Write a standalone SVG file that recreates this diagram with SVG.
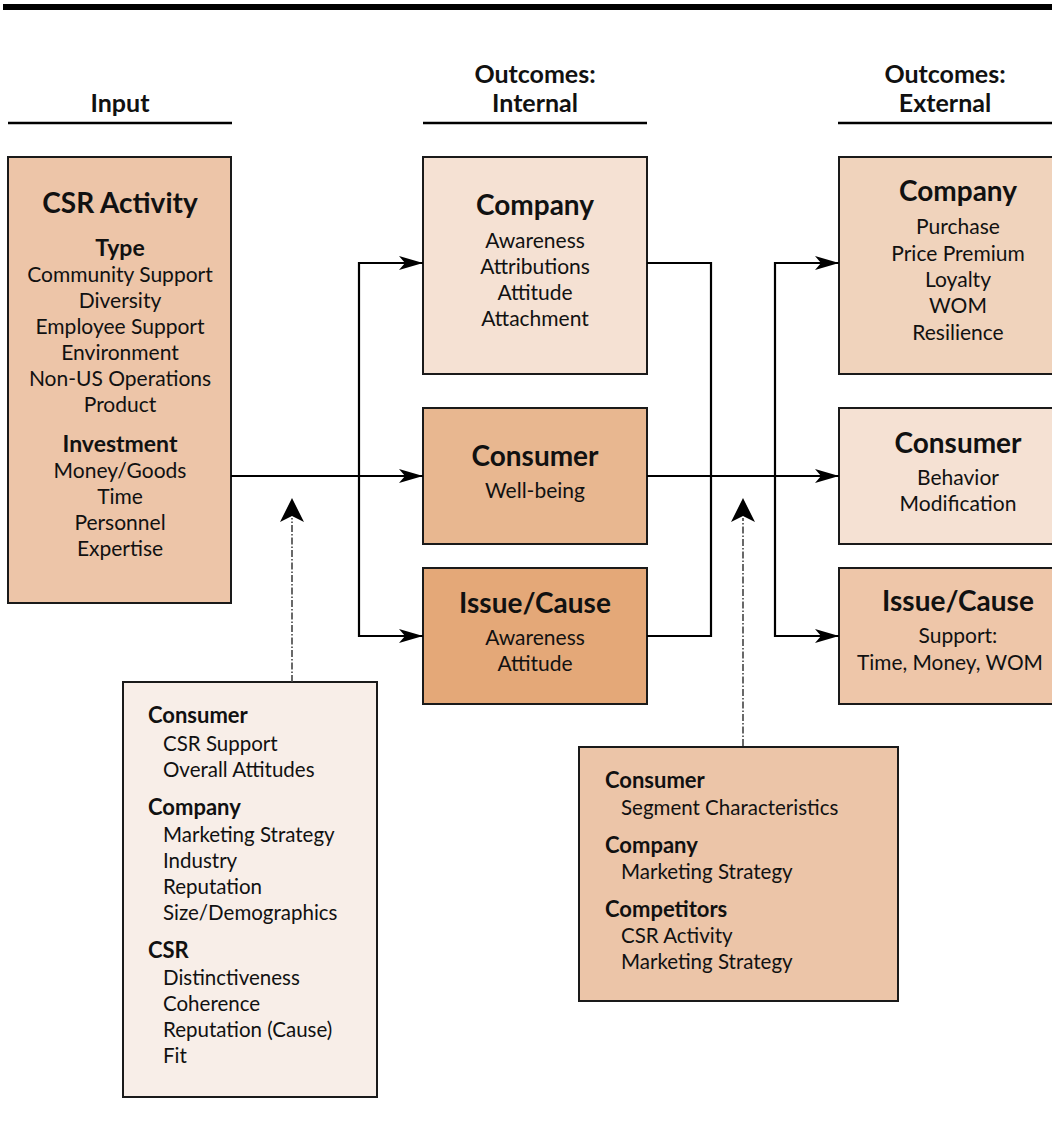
<svg xmlns="http://www.w3.org/2000/svg" width="1052" height="1142" viewBox="0 0 1052 1142">
<style>
  text { font-family: Lato, "Open Sans", "Liberation Sans", sans-serif; fill: #111; }
  .hd { font-size: 25px; font-weight: bold; text-anchor: middle; }
  .t { font-size: 28px; font-weight: bold; text-anchor: middle; }
  .st { font-size: 23px; font-weight: bold; text-anchor: middle; }
  .c { font-size: 21px; text-anchor: middle; }
  .mh { font-size: 22px; font-weight: bold; }
  .mi { font-size: 20.5px; }
  .box { stroke: #1a1a1a; stroke-width: 2; }
  .conn { fill: none; stroke: #000; stroke-width: 2.2; }
  .dash { fill: none; stroke: #444; stroke-width: 1.6; stroke-dasharray: 7 2 1.5 2; }
</style>
<defs>
  <marker id="arr" markerUnits="userSpaceOnUse" markerWidth="26" markerHeight="16" refX="24" refY="7" orient="auto">
    <path d="M0,0 L24,7 L0,14 L6,7 z" fill="#000"/>
  </marker>
</defs>
<rect width="1052" height="1142" fill="#fff"/>

<g id="headers">
  <rect x="3" y="4" width="1049" height="6" fill="#000"/>
  <text class="hd" x="120" y="112">Input</text>
  <line x1="8" y1="123" x2="232" y2="123" stroke="#000" stroke-width="2.5"/>
  <text class="hd" x="535" y="83">Outcomes:</text>
  <text class="hd" x="535" y="112">Internal</text>
  <line x1="423" y1="123" x2="647" y2="123" stroke="#000" stroke-width="2.5"/>
  <text class="hd" x="945" y="83">Outcomes:</text>
  <text class="hd" x="945" y="112">External</text>
  <line x1="838" y1="123" x2="1052" y2="123" stroke="#000" stroke-width="2.5"/>
</g>

<g id="csr-activity">
  <rect class="box" x="8" y="157" width="223" height="446" fill="#EDC5A8"/>
  <text class="t" x="120" y="213">CSR Activity</text>
  <text class="st" x="120" y="256">Type</text>
  <text class="c" x="120" y="282">Community Support</text>
  <text class="c" x="120" y="308">Diversity</text>
  <text class="c" x="120" y="334">Employee Support</text>
  <text class="c" x="120" y="360">Environment</text>
  <text class="c" x="120" y="386">Non-US Operations</text>
  <text class="c" x="120" y="412">Product</text>
  <text class="st" x="120" y="452">Investment</text>
  <text class="c" x="120" y="478">Money/Goods</text>
  <text class="c" x="120" y="504">Time</text>
  <text class="c" x="120" y="530">Personnel</text>
  <text class="c" x="120" y="556">Expertise</text>
</g>

<g id="int-company">
  <rect class="box" x="423" y="157" width="224" height="217" fill="#F5E1D3"/>
  <text class="t" x="535" y="215">Company</text>
  <text class="c" x="535" y="248">Awareness</text>
  <text class="c" x="535" y="274">Attributions</text>
  <text class="c" x="535" y="300">Attitude</text>
  <text class="c" x="535" y="326">Attachment</text>
</g>

<g id="int-consumer">
  <rect class="box" x="423" y="408" width="224" height="136" fill="#E8B790"/>
  <text class="t" x="535" y="466">Consumer</text>
  <text class="c" x="535" y="498">Well-being</text>
</g>

<g id="int-issue">
  <rect class="box" x="423" y="568" width="224" height="136" fill="#E4A878"/>
  <text class="t" x="535" y="613">Issue/Cause</text>
  <text class="c" x="535" y="645">Awareness</text>
  <text class="c" x="535" y="671">Attitude</text>
</g>

<g id="ext-company">
  <rect class="box" x="839" y="157" width="240" height="217" fill="#F0D3BC"/>
  <text class="t" x="958" y="201">Company</text>
  <text class="c" x="958" y="234">Purchase</text>
  <text class="c" x="958" y="261">Price Premium</text>
  <text class="c" x="958" y="287">Loyalty</text>
  <text class="c" x="958" y="313">WOM</text>
  <text class="c" x="958" y="340">Resilience</text>
</g>

<g id="ext-consumer">
  <rect class="box" x="839" y="408" width="240" height="136" fill="#F5E1D3"/>
  <text class="t" x="958" y="453">Consumer</text>
  <text class="c" x="958" y="485">Behavior</text>
  <text class="c" x="958" y="511">Modification</text>
</g>

<g id="ext-issue">
  <rect class="box" x="839" y="568" width="240" height="136" fill="#EEC6A9"/>
  <text class="t" x="958" y="611">Issue/Cause</text>
  <text class="c" x="958" y="643">Support:</text>
  <text class="c" x="950" y="670" textLength="186" lengthAdjust="spacingAndGlyphs">Time, Money, WOM</text>
</g>

<g id="moderators-internal">
  <rect class="box" x="123" y="682" width="254" height="415" fill="#F8EEE8"/>
  <text class="mh" x="148" y="723">Consumer</text>
  <text class="mi" x="163" y="751">CSR Support</text>
  <text class="mi" x="163" y="777">Overall Attitudes</text>
  <text class="mh" x="148" y="815">Company</text>
  <text class="mi" x="163" y="842">Marketing Strategy</text>
  <text class="mi" x="163" y="868">Industry</text>
  <text class="mi" x="163" y="894">Reputation</text>
  <text class="mi" x="163" y="920">Size/Demographics</text>
  <text class="mh" x="148" y="958">CSR</text>
  <text class="mi" x="163" y="985">Distinctiveness</text>
  <text class="mi" x="163" y="1011">Coherence</text>
  <text class="mi" x="163" y="1037">Reputation (Cause)</text>
  <text class="mi" x="163" y="1063">Fit</text>
</g>

<g id="moderators-external">
  <rect class="box" x="579" y="747" width="319" height="254" fill="#ECC5A8"/>
  <text class="mh" x="605" y="788">Consumer</text>
  <text class="mi" x="621" y="815">Segment Characteristics</text>
  <text class="mh" x="605" y="853">Company</text>
  <text class="mi" x="621" y="879">Marketing Strategy</text>
  <text class="mh" x="605" y="917">Competitors</text>
  <text class="mi" x="621" y="943">CSR Activity</text>
  <text class="mi" x="621" y="969">Marketing Strategy</text>
</g>

<g id="connectors">
  <line class="conn" x1="231" y1="476" x2="423" y2="476" marker-end="url(#arr)" stroke-width="1.6"/>
  <polyline class="conn" points="423,263 359,263 359,636 423,636"/>
  <line class="conn" x1="359" y1="263" x2="423" y2="263" marker-end="url(#arr)"/>
  <line class="conn" x1="359" y1="636" x2="423" y2="636" marker-end="url(#arr)"/>
  <polyline class="conn" points="647,263 711,263 711,636 647,636"/>
  <line class="conn" x1="647" y1="476" x2="839" y2="476" marker-end="url(#arr)" stroke-width="1.6"/>
  <polyline class="conn" points="839,263 775,263 775,636 839,636"/>
  <line class="conn" x1="775" y1="263" x2="839" y2="263" marker-end="url(#arr)"/>
  <line class="conn" x1="775" y1="636" x2="839" y2="636" marker-end="url(#arr)"/>
  <line class="dash" x1="292" y1="682" x2="292" y2="518"/>
  <path d="M280,522 L292,498 L304,522 L292,516 z" fill="#000"/>
  <line class="dash" x1="743" y1="746" x2="743" y2="518"/>
  <path d="M731,522 L743,498 L755,522 L743,516 z" fill="#000"/>
</g>
</svg>
